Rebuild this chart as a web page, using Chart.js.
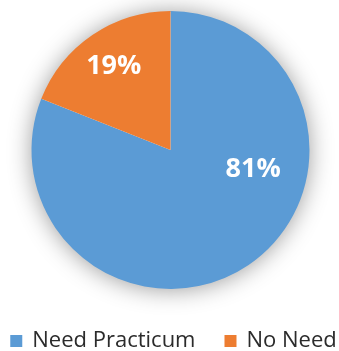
<!DOCTYPE html>
<html>
<head>
<meta charset="utf-8">
<script src="https://cdn.jsdelivr.net/npm/chart.js@4"></script>
<style>
  html, body { margin: 0; padding: 0; background: #fff; }
  #wrap { width: 339px; height: 351px; }
</style>
</head>
<body>
<div id="wrap"><canvas id="practicumPie"></canvas></div>
<script>
// PRACTICUM NEED PIE
const categories = ['Need Practicum', 'No Need'];
const shares = [81, 19];
const sliceColors = ['#5B9BD5', '#ED7D31'];

// where each percentage sits inside its slice: angle (deg, clockwise from 12 o'clock) and fraction of radius
const labelSpots = [
    { angle: 103, dist: 0.61 },
    { angle: 326, dist: 0.73 }
];

// soft grey shadow behind the whole pie
const pieShadow = {
    id: 'pieShadow',
    beforeDatasetsDraw(chart) {
        const arc = chart.getDatasetMeta(0).data[0];
        if (!arc) return;
        const ctx = chart.ctx;
        ctx.save();
        ctx.shadowColor = 'rgba(0,0,0,0.42)';
        ctx.shadowBlur = 24;
        ctx.shadowOffsetY = 1;
        ctx.fillStyle = '#fff';
        ctx.beginPath();
        ctx.arc(arc.x, arc.y, arc.outerRadius - 1, 0, Math.PI * 2);
        ctx.fill();
        ctx.restore();
    }
};

// white percentage text on the slices
const sliceLabels = {
    id: 'sliceLabels',
    afterDatasetsDraw(chart) {
        const ctx = chart.ctx;
        const meta = chart.getDatasetMeta(0);
        ctx.save();
        ctx.fillStyle = '#fff';
        ctx.font = 'bold 27px "Open Sans", sans-serif';
        ctx.textAlign = 'center';
        ctx.textBaseline = 'middle';
        meta.data.forEach((arc, i) => {
            const spot = labelSpots[i];
            const a = spot.angle * Math.PI / 180;
            const r = arc.outerRadius * spot.dist;
            const x = arc.x + Math.sin(a) * r;
            const y = arc.y - Math.cos(a) * r;
            ctx.fillText(shares[i] + '%', x, y);
        });
        ctx.restore();
    }
};

// single-row legend under the pie (the built-in one wraps at this width)
const bottomLegend = {
    id: 'bottomLegend',
    afterDraw(chart) {
        const ctx = chart.ctx;
        const items = Chart.overrides.pie.plugins.legend.labels.generateLabels(chart);
        const box = 12, gap = 10, spacing = 29, midY = 341;
        ctx.save();
        ctx.font = '22px "Open Sans", sans-serif';
        ctx.textBaseline = 'middle';
        const widths = items.map(it => box + gap + ctx.measureText(it.text).width);
        const total = widths.reduce((a, b) => a + b, 0) + spacing * (items.length - 1);
        let x = (chart.width - total) / 2 + 4;
        items.forEach((it, i) => {
            ctx.fillStyle = it.fillStyle;
            ctx.fillRect(x, midY - box / 2, box, box);
            ctx.fillStyle = '#2b2b2b';
            ctx.fillText(it.text, x + box + gap, midY);
            x += widths[i] + spacing;
        });
        ctx.restore();
    }
};

const ctx = document.getElementById('practicumPie').getContext('2d');
const practicumPie = new Chart(ctx, {
    type: 'pie',
    data: {
        labels: categories,
        datasets: [{
            data: shares,
            backgroundColor: sliceColors,
            borderWidth: 0
        }]
    },
    options: {
        responsive: true,
        maintainAspectRatio: false,
        animation: false,
        layout: {
            padding: { top: 11, left: 2, right: 0, bottom: 62 }
        },
        plugins: {
            tooltip: { enabled: false },
            legend: { display: false }
        }
    },
    plugins: [pieShadow, sliceLabels, bottomLegend]
});
</script>
</body>
</html>
